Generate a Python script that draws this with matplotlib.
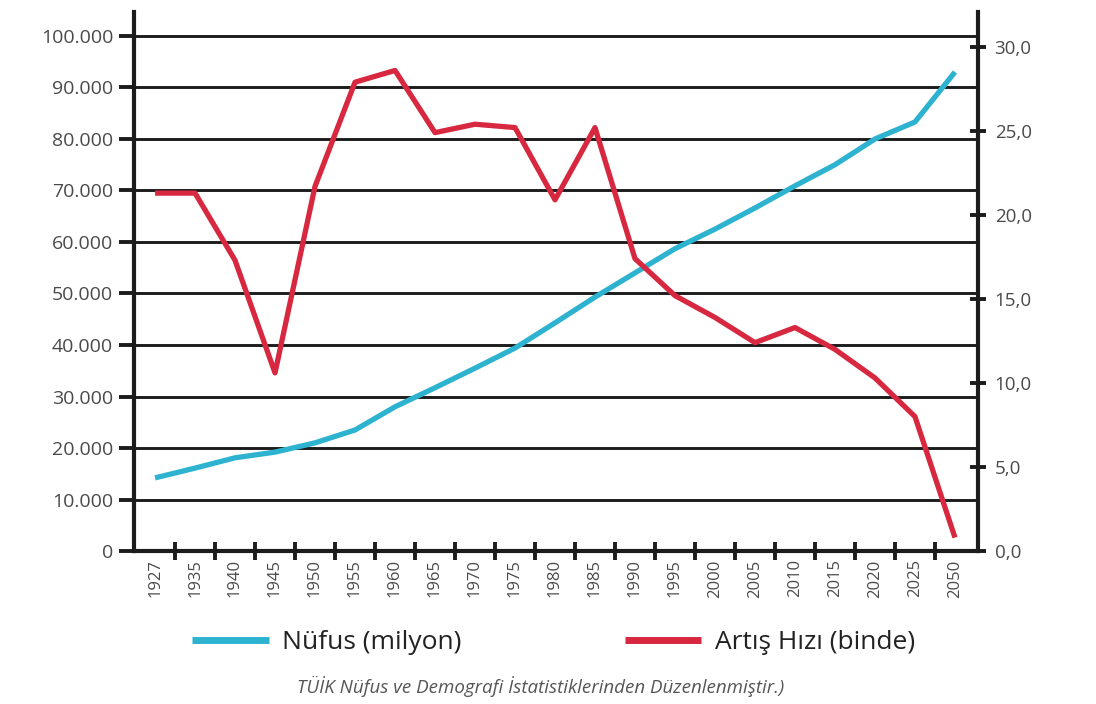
import numpy as np
import matplotlib
matplotlib.use('Agg')
from matplotlib import pyplot as plt
from matplotlib.ticker import FuncFormatter, MultipleLocator

plt.rcParams['font.family'] = ['Open Sans', 'DejaVu Sans']

years = ['1927', '1935', '1940', '1945', '1950', '1955', '1960', '1965', '1970', '1975',
         '1980', '1985', '1990', '1995', '2000', '2005', '2010', '2015', '2020', '2025', '2050']

# population, thousands (left axis)
nufus = [14200, 16100, 18100, 19200, 21000, 23500, 28000, 31700, 35500, 39400,
         44300, 49300, 54000, 58700, 62500, 66600, 70900, 75000, 80000, 83300, 93000]

# growth rate, per thousand (right axis)
artis = [21.3, 21.3, 17.3, 10.6, 21.7, 27.9, 28.6, 24.9, 25.4, 25.2,
         20.9, 25.2, 17.4, 15.2, 13.9, 12.4, 13.3, 12.0, 10.3, 8.0, 0.8]

blue = '#2db3d0'
red = '#d72840'
dark = '#1c1c1c'
txt = '#4a4a4a'

fig = plt.figure(figsize=(10.96, 7.04), dpi=100)
ax = fig.add_axes([0.1223, 0.2173, 0.77, 0.7657])
ax2 = ax.twinx()

x = np.arange(len(years))

# horizontal grid (left axis)
ax.set_ylim(0, 104660)
ax.yaxis.set_major_locator(MultipleLocator(10000))
ax.grid(axis='y', color=dark, linewidth=2.1)
ax.set_axisbelow(True)
ax.yaxis.set_major_formatter(FuncFormatter(lambda v, p: f"{int(v):,}".replace(',', '.')))

line1, = ax.plot(x, nufus, color=blue, linewidth=3.8, solid_capstyle='butt', zorder=3)
line2, = ax2.plot(x, artis, color=red, linewidth=3.8, solid_capstyle='butt', zorder=3)

ax.set_xlim(-0.525, len(years) - 1 + 0.575)
ax.set_xticks(x)
ax.set_xticklabels(years, rotation=90, fontsize=12, color=txt)
ax.set_xticks(x[:-1] + 0.5, minor=True)
ax.tick_params(axis='x', which='major', length=0, pad=6)
ax.tick_params(axis='x', which='minor', direction='inout', length=13, width=2.8, color=dark)
ax.tick_params(axis='y', direction='out', length=11, width=2.8, color=dark,
               labelsize=14, labelcolor=txt, pad=4)

ax2.set_ylim(0, 32.08)
ax2.yaxis.set_major_locator(MultipleLocator(5))
ax2.yaxis.set_major_formatter(FuncFormatter(lambda v, p: f"{v:.1f}".replace('.', ',')))
ax2.tick_params(axis='y', direction='inout', length=12, width=2.8, color=dark,
                labelsize=13.5, labelcolor=txt, pad=6)

for a in (ax, ax2):
    a.spines['top'].set_visible(False)
    for s in ('left', 'right', 'bottom'):
        a.spines[s].set_color(dark)
        a.spines[s].set_linewidth(3.0)
ax.spines['right'].set_visible(False)
ax2.spines['left'].set_visible(False)
ax2.spines['bottom'].set_visible(False)

fig.legend([line1, line2], ['Nüfus (milyon)', 'Artış Hızı (binde)'],
           loc='center', bbox_to_anchor=(0.505, 0.087), ncol=2, frameon=False,
           fontsize=19, handlelength=2.9, handletextpad=0.5, columnspacing=6.2,
           labelcolor='#222222')
for h in fig.legends[0].legend_handles:
    h.set_linewidth(5)

fig.text(0.493, 0.025, 'TÜİK Nüfus ve Demografi İstatistiklerinden Düzenlenmiştir.)',
         ha='center', va='center', fontsize=13.5, style='italic', color='#555555')

fig.savefig('out.png', dpi=100)
